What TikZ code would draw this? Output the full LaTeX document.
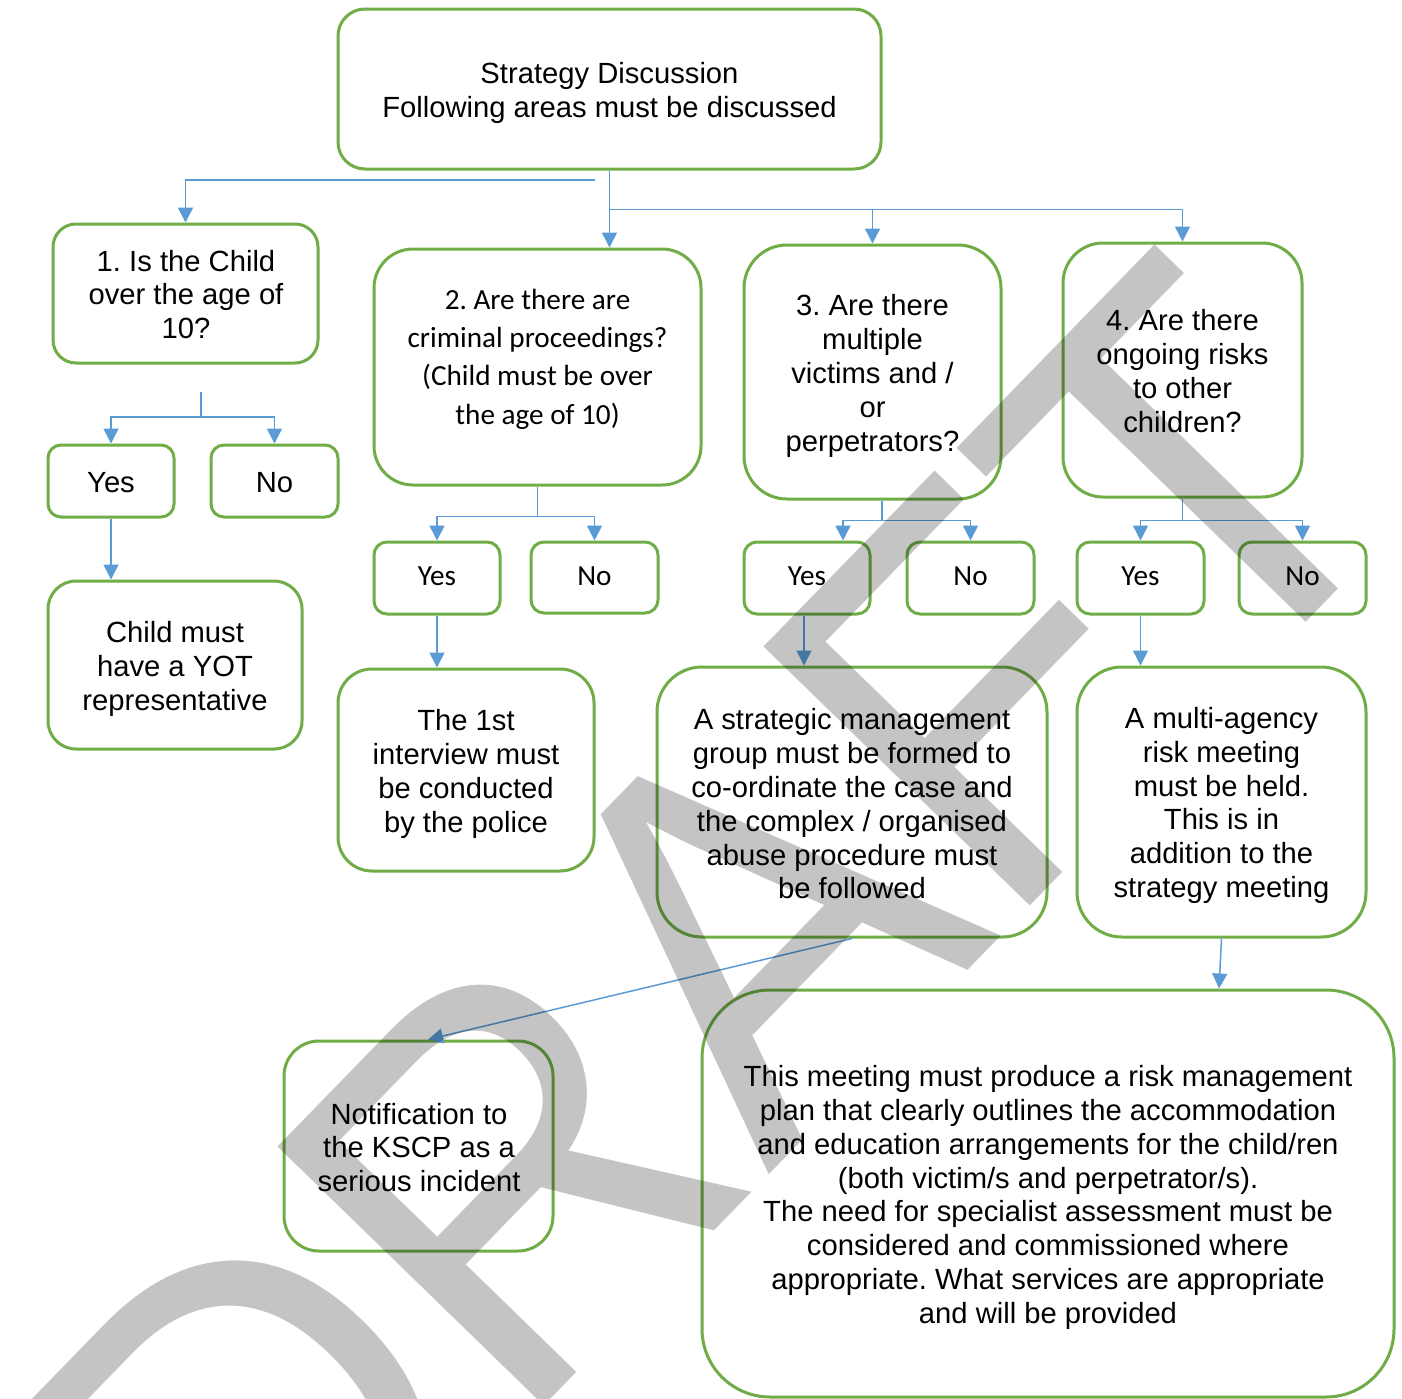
\documentclass[tikz,border=0pt]{standalone}
\usepackage{fontspec}
\setmainfont{Liberation Sans}
\newfontfamily\calfont{Carlito}
\usetikzlibrary{arrows.meta,calc}
\definecolor{boxgreen}{HTML}{70AD47}
\definecolor{linkblue}{HTML}{5B9BD5}
\frenchspacing
\tikzset{
  box/.style={draw=boxgreen, line width=1.5pt, rounded corners=#1, inner sep=0pt, shape=rectangle},
  arialtxt/.style={font=\fontsize{14.6pt}{16.9pt}\selectfont, align=center, inner sep=0pt},
  calibtxt/.style={font=\calfont\fontsize{14.6pt}{19.15pt}\selectfont, align=center, inner sep=0pt},
  link/.style={draw=linkblue, line width=0.75pt},
  conn/.style={link, -{Triangle[width=7.5pt,length=7.5pt]}},
  wmark/.style={font=\fontsize{270pt}{270pt}\selectfont, text=black, text opacity=0.23, rotate=45.8, xscale=0.93, inner sep=0pt}
}
\begin{document}
\begin{tikzpicture}[x=0.5pt,y=-0.5pt]
\useasboundingbox (0,0) rectangle (1402,1398);
\fill[white] (0,0) rectangle (1402,1398);
% boxes
\node[box=13.5pt, minimum width=271.5pt, minimum height=80pt] (top) at (609.5,89) {};
\node[box=11.5pt, minimum width=132.5pt, minimum height=69.5pt] (b1) at (185.5,293.5) {};
\node[box=19.5pt, minimum width=163.5pt, minimum height=118pt] (b2) at (537.5,367) {};
\node[box=21.5pt, minimum width=128.5pt, minimum height=127pt] (b3) at (872.5,372) {};
\node[box=20pt, minimum width=119.5pt, minimum height=127pt] (b4) at (1182.5,370) {};
\node[box=6.5pt, minimum width=63pt, minimum height=36pt] (y1) at (111,481) {};
\node[box=6.5pt, minimum width=63.5pt, minimum height=36pt] (n1) at (274.5,481) {};
\node[box=14pt, minimum width=127pt, minimum height=84pt] (child) at (175,665) {};
\node[box=6.5pt, minimum width=63pt, minimum height=36pt] (y2) at (437,578) {};
\node[box=6.5pt, minimum width=63.5pt, minimum height=35.5pt] (n2) at (594.5,577.5) {};
\node[box=17pt, minimum width=128pt, minimum height=101pt] (first) at (466,770) {};
\node[box=6.5pt, minimum width=63pt, minimum height=36pt] (y3) at (807,578) {};
\node[box=6.5pt, minimum width=63.5pt, minimum height=36pt] (n3) at (970.5,578) {};
\node[box=22.5pt, minimum width=195pt, minimum height=135pt] (strat) at (852,802) {};
\node[box=6.5pt, minimum width=63.5pt, minimum height=36pt] (y4) at (1140.5,578) {};
\node[box=6.5pt, minimum width=63.5pt, minimum height=36pt] (n4) at (1302.5,578) {};
\node[box=22.5pt, minimum width=144.5pt, minimum height=135pt] (multi) at (1221.5,802) {};
\node[box=17.5pt, minimum width=134.5pt, minimum height=105pt] (notif) at (418.5,1146) {};
\node[box=34pt, minimum width=346pt, minimum height=203.5pt] (big) at (1048,1193.5) {};
% texts
\node[arialtxt] (ttop) at (609.5,93) {Strategy Discussion\\Following areas must be discussed};
\node[arialtxt] (tb1) at (186,294.5) {1. Is the Child\\over the age of\\10?};
\node[calibtxt] (tb2) at (537.5,359) {2. Are there are\\criminal proceedings?\\(Child must be over\\the age of 10)};
\node[arialtxt] (tb3) at (872.5,376) {3. Are there\\multiple\\victims and /\\or\\perpetrators?};
\node[arialtxt] (tb4) at (1182.5,371) {4. Are there\\ongoing risks\\to other\\children?};
\node[arialtxt] (ty1) at (111,482.5) {Yes};
\node[arialtxt] (tn1) at (274.5,482.5) {No};
\node[calibtxt] (ty2) at (437,576.5) {Yes};
\node[calibtxt] (tn2) at (594.5,576.5) {No};
\node[calibtxt] (ty3) at (807,576.5) {Yes};
\node[calibtxt] (tn3) at (970.5,576.5) {No};
\node[calibtxt] (ty4) at (1140.5,576.5) {Yes};
\node[calibtxt] (tn4) at (1302.5,576.5) {No};
\node[arialtxt] (tchild) at (175,669) {Child must\\have a YOT\\representative};
\node[arialtxt] (tfirst) at (466,774) {The 1st\\interview must\\be conducted\\by the police};
\node[arialtxt] (tstrat) at (852,804) {A strategic management\\group must be formed to\\co-ordinate the case and\\the complex / organised\\abuse procedure must\\be followed};
\node[arialtxt] (tmulti) at (1221.5,805.5) {A multi-agency\\risk meeting\\must be held.\\This is in\\addition to the\\strategy meeting};
\node[arialtxt] (tnotif) at (419,1147.5) {Notification to\\the KSCP as a\\serious incident};
\node[arialtxt] (tbig) at (1048,1197.5) {This meeting must produce a risk management\\plan that clearly outlines the accommodation\\and education arrangements for the child/ren\\(both victim/s and perpetrator/s).\\The need for specialist assessment must be\\considered and commissioned where\\appropriate. What services are appropriate\\and will be provided};
% connectors
\coordinate (c1) at (595,180);
\draw[conn] (c1) -| (b1.north);
\draw[conn] (top.south) -- (top.south |- b2.north);
\coordinate (j1) at ($(top.south)+(0,39)$);
\draw[conn] (j1) -| (b3.north);
\draw[conn] (j1) -| (b4.north);
\coordinate (c2) at (201,392);
\coordinate (c2b) at (201,417);
\draw[link] (c2) -- (c2b);
\draw[conn] (c2b) -| (y1.north);
\draw[conn] (c2b) -| (n1.north);
\draw[conn] (y1.south) -- (y1.south |- child.north);
\coordinate (c3) at ($(b2.south)+(0,30)$);
\draw[link] (b2.south) -- (c3);
\draw[conn] (c3) -| (y2.north);
\draw[conn] (c3) -| (n2.north);
\draw[conn] (y2.south) -- (y2.south |- first.north);
\coordinate (c4a) at ($(b3.south)+(9.5,0)$);
\coordinate (c4) at ($(c4a)+(0,20)$);
\coordinate (y3in) at ($(y3.north)+(36,0)$);
\draw[link] (c4a) -- (c4);
\draw[conn] (c4) -| (y3in);
\draw[conn] (c4) -| (n3.north);
\draw[conn] ($(y3.south)+(-3,0)$) -- ($(y3.south |- strat.north)+(-3,0)$);
\coordinate (c5) at ($(b4.south)+(0,22)$);
\draw[link] (b4.south) -- (c5);
\draw[conn] (c5) -| (y4.north);
\draw[conn] (c5) -| (n4.north);
\draw[conn] (y4.south) -- (y4.south |- multi.north);
\coordinate (bigin) at ($(multi.south |- big.north)+(-2.5,0)$);
\draw[conn] (multi.south) -- (bigin);
\coordinate (notin) at ($(notif.north)+(9.5,0)$);
\draw[conn] (strat.south) -- (notin);
% watermark
\begin{scope}
\clip (0,0) rectangle (1402,1398);
\node[wmark] (wm) at (713,966) {DRAFT};
\end{scope}
\end{tikzpicture}
\end{document}
